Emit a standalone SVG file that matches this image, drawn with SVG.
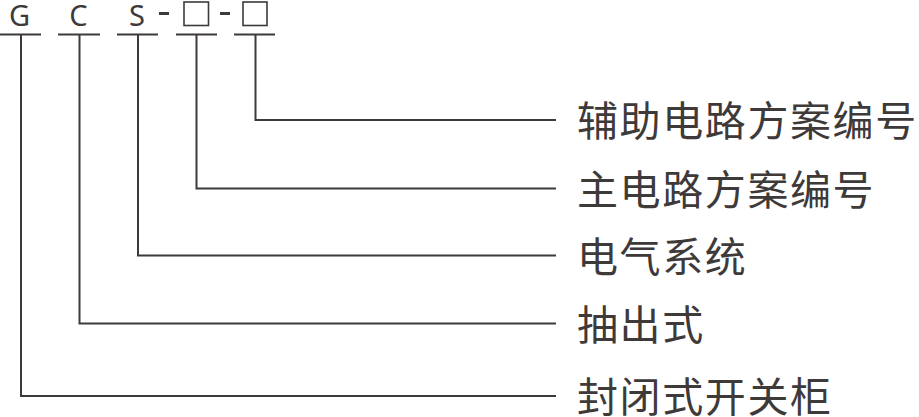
<svg xmlns="http://www.w3.org/2000/svg" width="919" height="417" viewBox="0 0 919 417">
<style>
.ln{fill:none;stroke:#3e3a39;stroke-width:2;stroke-linejoin:miter;stroke-linecap:butt}
.code{font-family:"Noto Sans","Noto Sans CJK SC",sans-serif;font-size:29px;fill:#3e3a39;text-anchor:middle}
.lbl{font-family:"Noto Sans CJK SC","Noto Sans",sans-serif;font-size:41px;letter-spacing:1.6px;fill:#3e3a39}
.box{fill:none;stroke:#3e3a39;stroke-width:1.6}
</style>
<rect width="919" height="417" fill="#ffffff"/>
<g id="code">
<text class="code" x="19.5" y="25.5">G</text>
<text class="code" x="78.5" y="25.5">C</text>
<text class="code" x="137" y="25.5">S</text>
<rect x="159" y="12" width="10" height="3" fill="#3e3a39"/>
<rect class="box" x="184" y="2" width="24.5" height="23.5"/>
<rect x="220" y="12" width="10" height="3" fill="#3e3a39"/>
<rect class="box" x="243" y="2" width="24" height="23.5"/>
</g>
<g id="connectors">
<line class="ln" x1="0" y1="34.5" x2="41" y2="34.5"/>
<line class="ln" x1="58" y1="34.5" x2="100" y2="34.5"/>
<line class="ln" x1="117" y1="34.5" x2="158" y2="34.5"/>
<line class="ln" x1="176" y1="34.5" x2="217" y2="34.5"/>
<line class="ln" x1="234" y1="34.5" x2="275" y2="34.5"/>
<polyline class="ln" points="255.5,34.5 255.5,120 556,120"/>
<polyline class="ln" points="196.5,34.5 196.5,188.5 556,188.5"/>
<polyline class="ln" points="138,34.5 138,255.5 556,255.5"/>
<polyline class="ln" points="79.5,34.5 79.5,323.5 556,323.5"/>
<polyline class="ln" points="21,34.5 21,396 556,396"/>
</g>
<g id="label-aux"><text class="lbl" x="577" y="136">辅助电路方案编号</text></g>
<g id="label-main"><text class="lbl" x="577" y="204.5">主电路方案编号</text></g>
<g id="label-elec"><text class="lbl" x="577" y="271.5">电气系统</text></g>
<g id="label-draw"><text class="lbl" x="577" y="339.5">抽出式</text></g>
<g id="label-enc"><text class="lbl" x="577" y="412">封闭式开关柜</text></g>
</svg>
